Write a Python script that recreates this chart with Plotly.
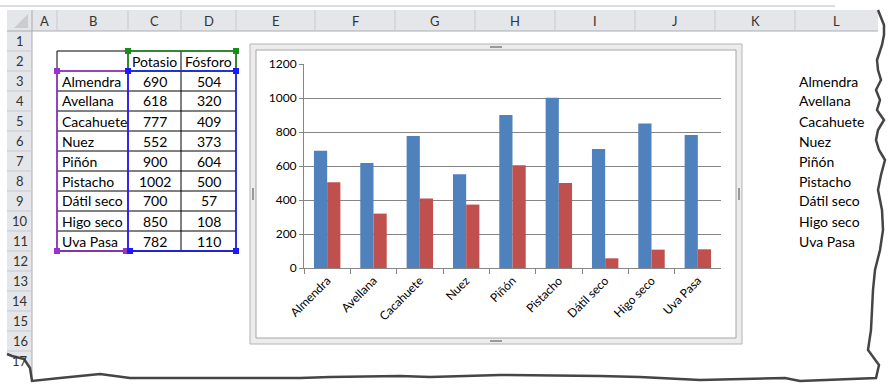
import plotly.graph_objects as go

# ---------------- data ----------------
categories = ["Almendra", "Avellana", "Cacahuete", "Nuez", "Piñón",
              "Pistacho", "Dátil seco", "Higo seco", "Uva Pasa"]
potasio = [690, 618, 777, 552, 900, 1002, 700, 850, 782]
fosforo = [504, 320, 409, 373, 604, 500, 57, 108, 110]
series_names = ["Potasio", "Fósforo"]
col_letters = ["A", "B", "C", "D", "E", "F", "G", "H", "I", "J", "K", "L"]
row_numbers = list(range(1, 18))

W, H = 894, 390
FONT = "Lato"


def px(x):
    return x / W


def py(y):
    return 1 - y / H


shapes = []
annots = []


def rect(x0, y0, x1, y1, fill=None, line=None, lw=1, layer="above"):
    shapes.append(dict(type="rect", xref="paper", yref="paper",
                       x0=px(x0), x1=px(x1), y0=py(y1), y1=py(y0),
                       fillcolor=fill if fill else "rgba(0,0,0,0)",
                       line=dict(color=line if line else "rgba(0,0,0,0)",
                                 width=lw if line else 0),
                       layer=layer))


def line(x0, y0, x1, y1, color, lw=1, layer="above"):
    shapes.append(dict(type="line", xref="paper", yref="paper",
                       x0=px(x0), x1=px(x1), y0=py(y0), y1=py(y1),
                       line=dict(color=color, width=lw), layer=layer))


def text(x, y, s, size=14, color="#000000", anchor="left"):
    annots.append(dict(x=px(x), y=py(y), xref="paper", yref="paper", text=s,
                       showarrow=False, xanchor=anchor, yanchor="middle",
                       font=dict(family=FONT, size=size, color=color)))


def path(points, closed=False):
    s = "M " + " L ".join(f"{px(x):.5f},{py(y):.5f}" for x, y in points)
    return s + (" Z" if closed else "")


# ---------------- sheet headers ----------------
col_edges = [32, 57, 128, 181, 236, 315, 395, 475, 555, 635, 715, 795, 878]
row_top = 31
row_h = 20
HDR_FILL = "#e4e6ea"
HDR_LINE = "#c6c9ce"

line(0, 6, 835, 6, "#b8b8b8", 1)
rect(7, 10, 878, 31, fill=HDR_FILL, line=None)
rect(7, 31, 32, 378, fill=HDR_FILL, line=None)
line(7, 31, 878, 31, "#a9acb2", 1)
line(32, 10, 32, 378, "#a9acb2", 1)
for xe in col_edges[1:-1]:
    line(xe, 10, xe, 31, HDR_LINE, 1)
for i, c in enumerate(col_letters):
    cx = (col_edges[i] + col_edges[i + 1]) / 2
    text(cx, 20.5, c, size=13, color="#333333", anchor="center")
for r in row_numbers:
    y0 = row_top + row_h * (r - 1)
    line(7, y0 + row_h, 32, y0 + row_h, HDR_LINE, 1)
    text(20, y0 + row_h / 2, str(r), size=13, color="#333333", anchor="center")
# corner triangle
shapes.append(dict(type="path", xref="paper", yref="paper",
                   path=path([(28, 14), (28, 28), (14, 28)], closed=True),
                   fillcolor="#c9ccd1", line=dict(width=0)))

# ---------------- data table ----------------
tx0, tx1, tx2, tx3 = 57, 128, 181, 236
ty0 = row_top + row_h      # row 2 top
ty_end = row_top + row_h * 11
for r in range(11):
    y = ty0 + r * row_h
    line(tx0, y, tx3, y, "#000000", 1)
line(tx0, ty_end, tx3, ty_end, "#000000", 1)
for xe in (tx0, tx1, tx2, tx3):
    line(xe, ty0, xe, ty_end, "#000000", 1)

text((tx1 + tx2) / 2, ty0 + 10, series_names[0], anchor="center")
text((tx2 + tx3) / 2, ty0 + 10, series_names[1], anchor="center")
for i, name in enumerate(categories):
    yc = ty0 + row_h * (i + 1) + 10
    text(tx0 + 3, yc, name)
    text((tx1 + tx2) / 2, yc, str(potasio[i]), anchor="center")
    text((tx2 + tx3) / 2, yc, str(fosforo[i]), anchor="center")

# selection highlights
GREEN, PURPLE, BLUE = "#1a8c1a", "#9933cc", "#1a1aff"
rect(tx1, ty0, tx3, ty0 + row_h, line=GREEN, lw=1.5)
rect(tx0, ty0 + row_h, tx1, ty_end, line=PURPLE, lw=1.5)
rect(tx1, ty0 + row_h, tx3, ty_end, line=BLUE, lw=1.5)


def handle(x, y, color):
    rect(x - 3, y - 3, x + 3, y + 3, fill=color)


handle(tx1, ty0, GREEN)
handle(tx3, ty0, GREEN)
handle(tx0, ty0 + row_h, PURPLE)
handle(tx1, ty0 + row_h, BLUE)
handle(tx3, ty0 + row_h, BLUE)
handle(tx0, ty_end, PURPLE)
handle(tx1 - 2, ty_end, PURPLE)
handle(tx1 + 2, ty_end, BLUE)
handle(tx3, ty_end, BLUE)

# right-hand list (column L)
for i, name in enumerate(categories):
    text(797, ty0 + row_h * (i + 1) + 10, name)

# ---------------- chart frame ----------------
rect(250, 44, 742, 344, fill="#ececec", line="#b4b4b4", lw=1, layer="below")
rect(256, 50, 736, 338, fill="#ffffff", line="#a6a6a6", lw=1, layer="below")
for (hx, hy) in [(496, 47), (496, 341)]:
    rect(hx - 6, hy - 1, hx + 6, hy + 1, fill="#9a9a9a", layer="below")
for (hx, hy) in [(253, 194), (739, 194)]:
    rect(hx - 1, hy - 6, hx + 1, hy + 6, fill="#9a9a9a", layer="below")

# ---------------- torn edge ----------------
right_edge = [(878, 10), (884, 25), (884, 35), (882, 45), (877, 60), (878, 70),
              (881, 80), (876, 90), (880, 100), (877, 110), (884, 120),
              (878, 130), (876, 140), (879, 150), (885, 160), (881, 175),
              (878, 190), (882, 210), (883, 230), (880, 250), (875, 270),
              (873, 290), (872, 310), (871, 330), (868, 350), (879, 365),
              (876, 378)]
bottom_edge = [(800, 381), (785, 378), (700, 380), (640, 377), (600, 376),
               (500, 375), (430, 377), (400, 376), (330, 377), (300, 378),
               (200, 378), (130, 378), (100, 374), (60, 378), (32, 381)]
left_edge = [(30, 368), (24, 359), (12, 356), (7, 354)]
edge_pts = right_edge + bottom_edge + left_edge
cover = edge_pts + [(0, 354), (0, 390), (894, 390), (894, 0), (878, 0)]
shapes.append(dict(type="path", xref="paper", yref="paper",
                   path=path(cover, closed=True), fillcolor="#ffffff",
                   line=dict(width=0), layer="above"))
shapes.append(dict(type="path", xref="paper", yref="paper",
                   path=path(edge_pts), line=dict(color="#454545", width=2.5),
                   layer="above"))

# ---------------- chart ----------------
fig = go.Figure()
fig.add_bar(x=categories, y=potasio, name=series_names[0],
            marker=dict(color="#4F81BD", line=dict(width=0)))
fig.add_bar(x=categories, y=fosforo, name=series_names[1],
            marker=dict(color="#C0504D", line=dict(width=0)))

fig.update_layout(
    width=W, height=H,
    autosize=False,
    margin=dict(l=0, r=0, t=0, b=0, pad=0, autoexpand=False),
    paper_bgcolor="#ffffff",
    plot_bgcolor="rgba(0,0,0,0)",
    showlegend=False,
    barmode="group",
    bargap=0.43,
    bargroupgap=0,
    font=dict(family=FONT, size=12, color="#000000"),
    xaxis=dict(domain=[px(304), px(721)], showline=True, linecolor="#868686",
               ticks="outside", tickson="boundaries", ticklen=5,
               tickcolor="#868686", tickangle=-45, automargin=False,
               tickfont=dict(family=FONT, size=12, color="#000000"),
               showgrid=False, fixedrange=True),
    yaxis=dict(domain=[py(268), py(64)], range=[0, 1200], dtick=200,
               showline=True, linecolor="#868686", ticks="outside", ticklen=4,
               tickcolor="#868686", gridcolor="#868686", gridwidth=1,
               zeroline=False, automargin=False,
               tickfont=dict(family=FONT, size=12, color="#000000"),
               fixedrange=True),
    shapes=shapes,
    annotations=annots,
)

fig.write_html(
    "out.html",
    config={"displayModeBar": False, "responsive": False},
    post_script="document.body.style.margin='0';document.body.style.overflow='hidden';",
)
